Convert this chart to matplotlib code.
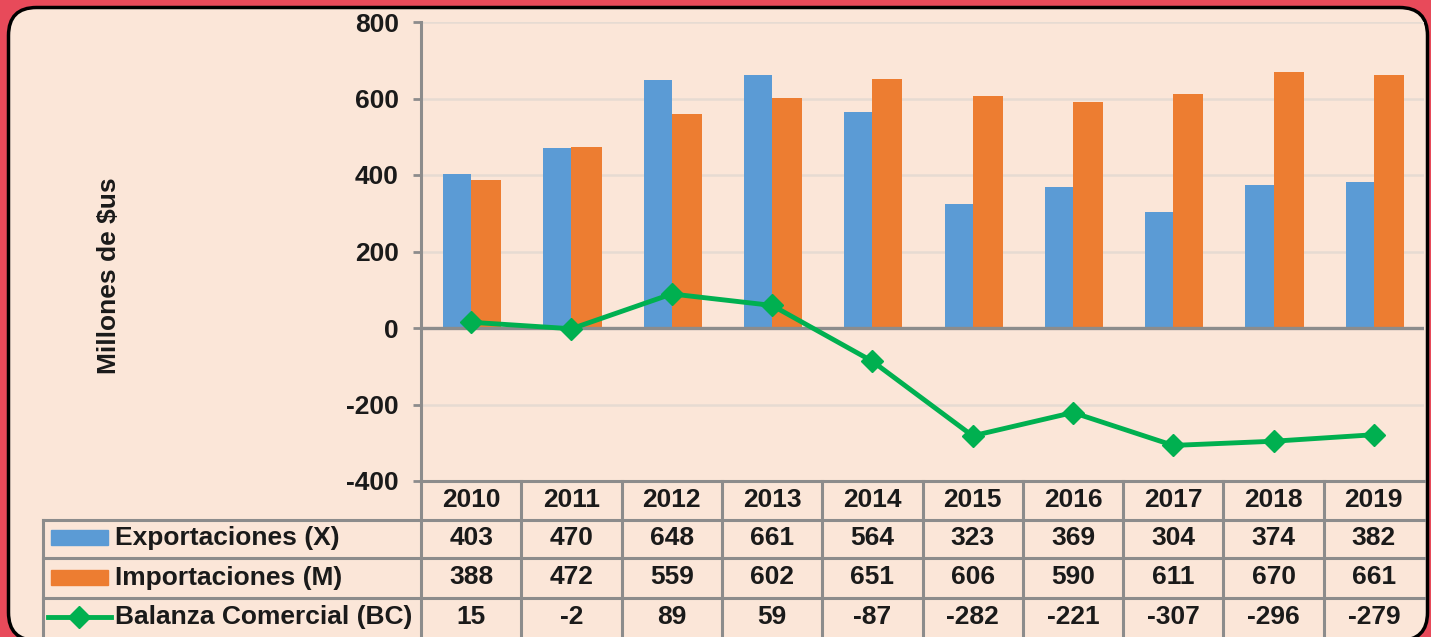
import matplotlib.pyplot as plt
from matplotlib.patches import FancyBboxPatch, Rectangle
from matplotlib.lines import Line2D

# Data (millones de $us)
years = ['2010', '2011', '2012', '2013', '2014', '2015', '2016', '2017', '2018', '2019']
exportaciones = [403, 470, 648, 661, 564, 323, 369, 304, 374, 382]
importaciones = [388, 472, 559, 602, 651, 606, 590, 611, 670, 661]
balanza = [15, -2, 89, 59, -87, -282, -221, -307, -296, -279]
series_names = ['Exportaciones (X)', 'Importaciones (M)', 'Balanza Comercial (BC)']

blue = '#5b9bd5'
orange = '#ed7d31'
green = '#00b050'
gray = '#8c8c8c'
bg = '#fbe6d8'
red = '#e84a5a'
txt = '#1a1a1a'
W, H = 1431, 637
fs = 19

plt.rcParams['font.family'] = ['Liberation Sans', 'DejaVu Sans']
plt.rcParams['font.weight'] = 'bold'
plt.rcParams['axes.unicode_minus'] = False

fig = plt.figure(figsize=(W / 100, H / 100), dpi=100, facecolor=red)

# overlay in pixel coordinates for the rounded box and the table
ov = fig.add_axes([0, 0, 1, 1], zorder=0)
ov.set_xlim(0, W)
ov.set_ylim(H, 0)
ov.axis('off')
ov.add_patch(FancyBboxPatch((8.5, 7.5), 1419, 633, boxstyle='round,pad=0,rounding_size=28',
                            facecolor=bg, edgecolor='black', lw=2.5))

# main chart
x0, x1, ytop, ybot = 421, 1424, 22, 481
ax = fig.add_axes([x0 / W, (H - ybot) / H, (x1 - x0) / W, (ybot - ytop) / H], zorder=1)
ax.patch.set_alpha(0)
idx = list(range(len(years)))
ax.bar([i - 0.14 for i in idx], exportaciones, width=0.28, color=blue, zorder=2)
ax.bar([i + 0.15 for i in idx], importaciones, width=0.30, color=orange, zorder=2)
ax.axhline(0, color=gray, lw=2.4, zorder=3)
ax.plot(idx, balanza, color=green, lw=3.5, marker='D', markersize=11, zorder=4)

ax.set_xlim(-0.5, len(years) - 0.5)
ax.set_ylim(-400, 800)
ax.set_yticks(range(-400, 801, 200))
ax.set_xticks([])
ax.yaxis.grid(True, color='#e6dbd2', lw=1.8)
ax.set_axisbelow(True)
for s in ['top', 'right']:
    ax.spines[s].set_visible(False)
for s in ['left', 'bottom']:
    ax.spines[s].set_color(gray)
    ax.spines[s].set_linewidth(2.2)
ax.tick_params(axis='y', length=6, width=2, color=gray, pad=10, labelsize=fs, labelcolor=txt)
for lab in ax.get_yticklabels():
    lab.set_fontweight('bold')

fig.text(109 / W, 1 - 276 / H, 'Millones de \\$us', rotation=90, ha='center', va='center',
         fontsize=fs, fontweight='bold', color=txt)

# data table
cw = (x1 - x0) / len(years)
rows = [481, 520, 558, 598, 641]
lw_t = 2.2
for k in range(len(years)):
    ov.add_line(Line2D([x0 + k * cw] * 2, [rows[0], rows[-1]], color=gray, lw=lw_t))
ov.add_line(Line2D([43, 43], [rows[1], rows[-1]], color=gray, lw=lw_t))
for r in rows[1:4]:
    ov.add_line(Line2D([43, x1], [r, r], color=gray, lw=lw_t))

for k, yr in enumerate(years):
    cx = x0 + (k + 0.5) * cw
    ov.text(cx, 500, yr, ha='center', va='center', fontsize=fs, fontweight='bold', color=txt)
    for r, vals in enumerate([exportaciones, importaciones, balanza]):
        ov.text(cx, 538 + r * 39.5, str(vals[k]), ha='center', va='center',
                fontsize=fs, fontweight='bold', color=txt)

# legend keys inside the table
ov.add_patch(Rectangle((51, 530), 57, 15, color=blue))
ov.add_patch(Rectangle((51, 570), 57, 15, color=orange))
ov.add_line(Line2D([48, 111], [617, 617], color=green, lw=3.5))
ov.add_line(Line2D([79], [617], color=green, marker='D', markersize=11))
for r, name in enumerate(series_names):
    ov.text(115, 538 + r * 39.5, name, ha='left', va='center', fontsize=fs,
            fontweight='bold', color=txt)

fig.savefig('out.png', dpi=100, facecolor=red)
